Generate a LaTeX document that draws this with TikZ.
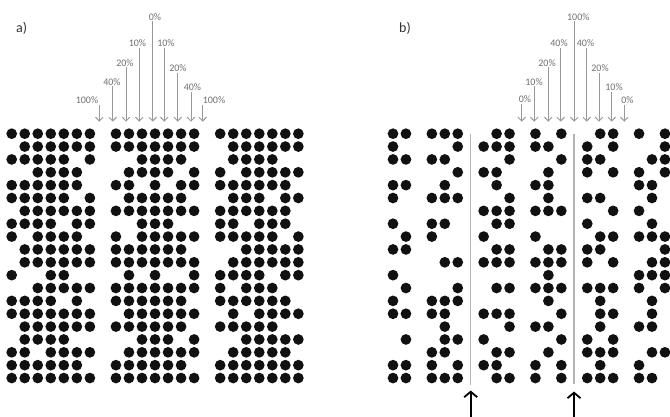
\documentclass[tikz,border=0pt]{standalone}
\usepackage{fontspec}
\setmainfont{Carlito}
\usetikzlibrary{arrows.meta}
\definecolor{dotc}{HTML}{111111}
\definecolor{arrc}{HTML}{999999}
\definecolor{txtc}{HTML}{707070}
\definecolor{linec}{HTML}{B4B4B4}
\newcommand\dotrow[4]{\def\dotX{#1}\def\dotStep{#2}\def\dotY{#3}\expandafter\dotparse#4\relax}
\def\dotparse#1{\ifx\relax#1\else\if1#1\fill[dotc] (\dotX,\dotY) circle[radius=5.35];\fi\pgfmathsetmacro\dotX{\dotX+\dotStep}\expandafter\dotparse\fi}
\begin{document}
\begin{tikzpicture}[x=1pt,y=-1pt,
  pct/.style={font=\fontsize{10}{11}\selectfont, text=txtc, inner sep=1pt},
  panel/.style={font=\fontsize{14}{15}\selectfont, text=black!80, inner sep=0pt},
  garrow/.style={draw=arrc, line width=1pt, -{Straight Barb[length=3.8pt,width=7.5pt]}},
  barrow/.style={draw=black, line width=1.8pt, -{Straight Barb[length=5.5pt,width=13pt]}},
  sepline/.style={draw=linec, line width=1.4pt}]
\path[use as bounding box, fill=white] (0,0) rectangle (670,416);
% panel labels
\node[panel] (la) at (21.7,28.3) {a)};
\node[panel] (lb) at (405,28.3) {b)};
% panel a dots
\foreach \rowbits [count=\r from 0] in {
11111110111111101111111,
01111110111111100111111,
11111010001111000111100,
00111100011110101011111,
11111100110101101111110,
11111010011111000111011,
01111110111111101111110,
11110110001110001101110,
10111100101111101111101,
01111110111111000011111,
01111110111111100111111,
10011000010100101111011,
00111110111111101011100,
11110100111111001111110,
11111110011111100101111,
01111110111111001111100,
01111000001110100011111,
11011110011111100111110,
11111100111111001111111,
11111110111111101111111}{
  \pgfmathsetmacro\yy{133.7+12.86*\r}
  \dotrow{11.7}{13.03}{\yy}{\rowbits}
}
% panel b dots
\foreach \rowbits [count=\r from 0] in {
1101110011010100110101,
1000010111011001010001,
1101100001000101100011,
0000010110001001010101,
1100100010011000000110,
1001110001001001100010,
0000000111011100010100,
1001100011000001000010,
0101000100010000110111,
1100000011001101100001,
0000110111011101010011,
1000000000001000000111,
0100010011011101110101,
1001110000001000100010,
1101100111000100110010,
0000100001011000100110,
0100110100000101010000,
0001100011001001110011,
1101010110010100100100,
1101110011010101110110}{
  \pgfmathsetmacro\yy{133.7+12.86*\r}
  \dotrow{393}{12.95}{\yy}{\rowbits}
}
% panel a arrows
\foreach \n/\ax/\lx/\ly/\t in {
  1/99.3/87/100/100\%, 2/112.7/112/81.7/40\%, 3/126/125/62.7/20\%,
  4/139.3/137.5/43/10\%, 5/152.7/155/16.7/0\%, 6/164.3/166/43/10\%,
  7/177.7/178/68.3/20\%, 8/191/192.5/87.3/40\%, 9/202.7/214/100/100\%}{
  \node[pct] (pa\n) at (\lx,\ly) {\t};
  \coordinate (ta\n) at (\ax,121.7);
  \draw[garrow] (pa\n.south -| ta\n) -- (ta\n);
}
% panel b arrows
\foreach \n/\ax/\lx/\ly/\t in {
  1/521.7/525/99.3/0\%, 2/534.3/534/81.7/10\%, 3/548.3/547/62.7/20\%,
  4/560.7/559/43.3/40\%, 5/574.3/578.3/16.7/100\%, 6/586.7/585.5/43.3/40\%,
  7/599/600/68.3/20\%, 8/611.7/614/87.3/10\%, 9/624.3/627.5/100/0\%}{
  \node[pct] (pb\n) at (\lx,\ly) {\t};
  \coordinate (tb\n) at (\ax,121.7);
  \draw[garrow] (pb\n.south -| tb\n) -- (tb\n);
}
% separator lines and bottom arrows in panel b
\coordinate (s1t) at (470.7,133.7);
\coordinate (s1b) at (470.7,385.3);
\coordinate (u1) at (470.7,417);
\coordinate (h1) at (470.7,390.5);
\draw[sepline] (s1t) -- (s1b);
\draw[barrow] (u1) -- (h1);
\coordinate (s2t) at (574,133.7);
\coordinate (s2b) at (574,384);
\coordinate (u2) at (574,417);
\coordinate (h2) at (574,391.5);
\draw[sepline] (s2t) -- (s2b);
\draw[barrow] (u2) -- (h2);
\end{tikzpicture}
\end{document}
